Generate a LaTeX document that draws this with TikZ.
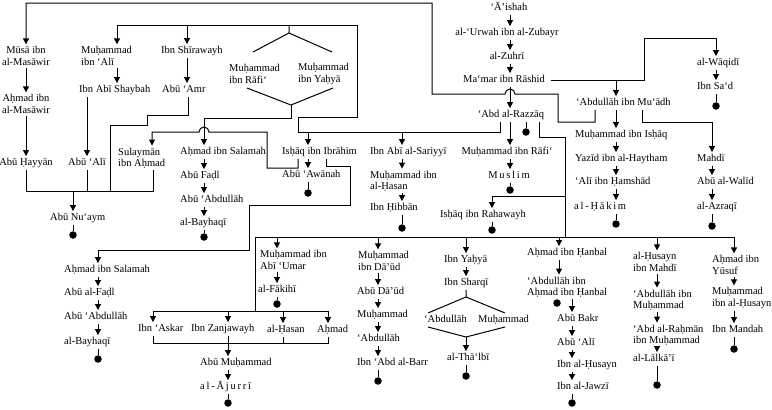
\documentclass[tikz,border=0pt]{standalone}
\usepackage{fontspec}
\setmainfont{Liberation Serif}
\usetikzlibrary{arrows.meta}

\begin{document}
\begin{tikzpicture}[
  x=1pt, y=-1pt,
  font=\fontsize{10.5}{11.5}\selectfont,
  nm/.style={anchor=west, inner xsep=0pt, inner ysep=2pt, text height=7pt, text depth=2.5pt},
  nm2/.style={anchor=west, align=left, inner xsep=0pt, inner ysep=2pt},
  ln/.style={line width=1pt},
  arr/.style={line width=1pt, -{Triangle[length=6pt,width=6pt]}},
  dot/.style={circle, fill=black, minimum size=7.5pt, inner sep=0pt}
]
  \useasboundingbox (0,0) rectangle (772,410);

  % upper left
  \node[nm2, anchor=center, align=center] (musa) at (26,56) {Mūsā ibn\\al-Masāwir};
  \node[nm2, anchor=center, align=center] (ahmadM) at (26,104) {Aḥmad ibn\\al-Masāwir};
  \node[nm, anchor=center] (hayyan) at (26,163) {Abū Ḥayyān};
  \node[nm2] (mAli) at (81,56) {Muḥammad\\ibn ‘Alī};
  \node[nm] (shaybah) at (79,90) {Ibn Abī Shaybah};
  \node[nm, anchor=center] (abuAli) at (87,163) {Abū ‘Alī};
  \node[nm] (shirawayh) at (161,51) {Ibn Shīrawayh};
  \node[nm] (abuAmr) at (162,90) {Abū ‘Amr};
  \node[nm2] (sulayman) at (118,158) {Sulaymān\\ibn Aḥmad};
  \node[nm] (nuaym) at (50,218) {Abū Nu‘aym};

  % upper middle
  \node[nm2] (mRafiA) at (229,74) {Muḥammad\\ibn Rāfi‘};
  \node[nm2] (mYahya) at (298,74) {Muḥammad\\ibn Yaḥyā};
  \node[nm] (salamahA) at (180,152) {Aḥmad ibn Salamah};
  \node[nm] (fadlA) at (180,176) {Abū Faḍl};
  \node[nm] (abdA) at (180,200) {Abū ‘Abdullāh};
  \node[nm] (bayhaqiA) at (180,223) {al-Bayhaqī};
  \node[nm] (ishaqI) at (282,152) {Isḥāq ibn Ibrāhim};
  \node[nm] (awanah) at (282,175) {Abū ‘Awānah};
  \node[nm] (sariyyi) at (370,152) {Ibn Abī al-Sariyyī};
  \node[nm2] (mHasan) at (370,181) {Muḥammad ibn\\al-Ḥasan};
  \node[nm] (hibban) at (370,208) {Ibn Ḥibbān};

  % main chain
  \node[nm, anchor=center] (aishah) at (509,8) {‘Ā’ishah};
  \node[nm, anchor=center] (urwah) at (507,33) {al-‘Urwah ibn al-Zubayr};
  \node[nm, anchor=center] (zuhri) at (507,57) {al-Zuhrī};
  \node[nm, anchor=center] (mamar) at (504,80) {Ma‘mar ibn Rāshid};
  \node[nm, anchor=center] (razzaq) at (511,115) {‘Abd al-Razzāq};
  \node[nm, anchor=center] (mRafiB) at (507,152) {Muḥammad ibn Rāfi‘};
  \node[nm, anchor=center] (muslim) at (509,176) {M\,u\,s\,l\,i\,m};
  \node[nm, anchor=center] (rahawayh) at (483,215) {Isḥāq ibn Rahawayh};

  % upper right
  \node[nm] (waqidi) at (697,63) {al-Wāqidī};
  \node[nm] (ibnSad) at (697,87) {Ibn Sa‘d};
  \node[nm] (muadh) at (576,103) {‘Abdullāh ibn Mu‘ādh};
  \node[nm] (mIshaq) at (575,135) {Muḥammad ibn Isḥāq};
  \node[nm] (yazid) at (575,159) {Yazīd ibn al-Haytham};
  \node[nm] (hamshad) at (575,182) {‘Alī ibn Ḥamshād};
  \node[nm] (hakim) at (574,207) {a\,l\,-\,Ḥ\,ā\,k\,i\,m};
  \node[nm] (mahdi) at (697,159) {Mahdī};
  \node[nm] (walid) at (697,182) {Abū al-Walīd};
  \node[nm] (azraqi) at (697,207) {al-Azraqī};

  % lower part
  \node[nm] (salamahB) at (64,270) {Aḥmad ibn Salamah};
  \node[nm] (fadlB) at (64,293) {Abū al-Faḍl};
  \node[nm] (abdB) at (64,317) {Abū ‘Abdullāh};
  \node[nm] (bayhaqiB) at (64,342) {al-Bayhaqī};
  \node[nm] (askar) at (138,329) {Ibn ‘Askar};
  \node[nm] (zanjawayh) at (191,329) {Ibn Zanjawayh};
  \node[nm] (hasan) at (267,330) {al-Ḥasan};
  \node[nm] (ahmad) at (317,330) {Aḥmad};
  \node[nm] (abuMuh) at (200,363) {Abū Muḥammad};
  \node[nm] (ajurri) at (200,387) {a\,l\,-\,Ā\,j\,u\,r\,r\,ī};
  \node[nm2] (mUmar) at (260,260) {Muḥammad ibn\\Abī ‘Umar};
  \node[nm] (fakihi) at (258,290) {al-Fākihī};
  \node[nm2] (mDaud) at (358,261) {Muḥammad\\ibn Dā’ūd};
  \node[nm] (abuDaud) at (357,292) {Abū Dā’ūd};
  \node[nm] (muhD) at (357,315) {Muḥammad};
  \node[nm] (abdD) at (357,339) {‘Abdullāh};
  \node[nm] (abdBarr) at (357,363) {Ibn ‘Abd al-Barr};
  \node[nm] (ibnYahya) at (444,260) {Ibn Yaḥyā};
  \node[nm] (sharqi) at (444,283) {Ibn Sharqī};
  \node[nm] (abdS) at (424,320) {‘Abdullāh};
  \node[nm] (muhS) at (478,320) {Muḥammad};
  \node[nm] (thalbi) at (447,358) {al-Thā‘lbī};
  \node[nm] (hanbal) at (527,253) {Aḥmad ibn Ḥanbal};
  \node[nm2] (abdH) at (527,287) {‘Abdullāh ibn\\Aḥmad ibn Ḥanbal};
  \node[nm] (abuBakr) at (557,319) {Abū Bakr};
  \node[nm] (abuAliB) at (557,343) {Abū ‘Alī};
  \node[nm] (husaynB) at (557,365) {Ibn al-Ḥusayn};
  \node[nm] (jawzi) at (557,387) {Ibn al-Jawzī};
  \node[nm2] (husayn) at (633,262) {al-Ḥusayn\\ibn Mahdī};
  \node[nm2] (abdM) at (633,300) {‘Abdullāh ibn\\Muḥammad};
  \node[nm2] (rahman) at (633,335) {‘Abd al-Raḥmān\\ibn Muḥammad};
  \node[nm] (lalkai) at (633,359) {al-Lālkā’ī};
  \node[nm2] (ahmadY) at (712,265) {Aḥmad ibn\\Yūsuf};
  \node[nm2] (mHusayn) at (712,298) {Muḥammad\\ibn al-Ḥusayn};
  \node[nm] (mandah) at (712,330) {Ibn Mandah};

  % end dots
  \node[dot] (dNuaym) at (73,235) {};
  \node[dot] (dBayA) at (204,237) {};
  \node[dot] (dAwanah) at (308,193) {};
  \node[dot] (dHibban) at (402,228) {};
  \node[dot] (dRazzaq) at (526,132) {};
  \node[dot] (dMuslim) at (510,190) {};
  \node[dot] (dRahawayh) at (492,230) {};
  \node[dot] (dSad) at (716,106) {};
  \node[dot] (dHakim) at (616,224) {};
  \node[dot] (dAzraqi) at (712,226) {};
  \node[dot] (dBayB) at (98,359) {};
  \node[dot] (dAjurri) at (228,403) {};
  \node[dot] (dFakihi) at (277,304) {};
  \node[dot] (dBarr) at (378,381) {};
  \node[dot] (dThalbi) at (466,376) {};
  \node[dot] (dHanbal) at (557,303) {};
  \node[dot] (dJawzi) at (572,403) {};
  \node[dot] (dLalkai) at (657,385) {};
  \node[dot] (dMandah) at (734,349) {};

  % long routes
  \draw[arr] (muadh.south -| 595,0) -- (595,122) -- (558,122) -- (558,94) -- (515,94)
    arc[start angle=0, end angle=180, radius=5pt] -- (432,94) -- (432,3) -| (musa.north);
  \draw[ln] (razzaq.south -| 500,0) -- (500,132) -- (298,132) -- (298,117) -- (357,117) -- (357,25) -- (117,25);
  \draw[arr] (117,25) -- (mAli.north -| 117,0);
  \draw[arr] (187,25) -- (shirawayh.north -| 187,0);
  \draw[arr] (308,132) -- (ishaqI.north -| 308,0);
  \draw[arr] (402,132) -- (sariyyi.north -| 402,0);
  \draw[arr] ([xshift=6pt]mamar.east) -- (644,80) |- (716,38) -- (waqidi.north -| 716,0);
  \draw[arr] (616,80) -- (muadh.north -| 616,0);
  \draw[arr] (muadh.south -| 642,0) -- (642,122) -| (mahdi.north -| 712,0);

  % two Muhammads
  \draw[ln] (289,25) -- (289,33) -- (253,52);
  \draw[ln] (289,33) -- (332,52);
  \draw[ln] (247,88) -- (291,105) -- (333,88);
  \draw[arr] (291,105) -- (291,118) -- (204,118) -- (salamahA.north -| 204,0);

  % from Ishaq ibn Ibrahim
  \draw[arr] (ishaqI.south -| 298,0) -- (298,168) -- (267,168) -- (267,132) -- (209,132)
    arc[start angle=0, end angle=180, radius=5pt] -- (152,132) -- (sulayman.north -| 152,0);
  \draw[arr] (ishaqI.south -| 326,0) -- (326,166) -- (350,166) -- (350,205) -- (249,205) -- (249,250) -| (salamahB.north -| 98,0);

  % to Abu Nu'aym
  \draw[ln] (abuAmr.south -| 188,0) -- (188,115) -- (147,115) -- (147,125) -- (110,125) -- (110,191);
  \draw[ln] (hayyan.south) -- (26,191) -- (153,191) -- (sulayman.south -| 153,0);
  \draw[ln] (abuAli.south) -- (87,191);
  \draw[arr] (73,191) -- (nuaym.north -| 73,0);

  % from 'Abd al-Razzaq to the right
  \draw[ln] (razzaq.south -| 539,0) -- (539,137) -- (565,137) -- (565,237);
  \draw[arr] (565,196) -| (rahawayh.north -| 492,0);
  \draw[ln] (255,311) -- (255,237) -- (734,237);
  \draw[arr] (277,237) -- (mUmar.north -| 277,0);
  \draw[arr] (378,237) -- (mDaud.north -| 378,0);
  \draw[arr] (466,237) -- (ibnYahya.north -| 466,0);
  \draw[arr] (559,237) -- (hanbal.north -| 559,0);
  \draw[arr] (657,237) -- (husayn.north -| 657,0);
  \draw[arr] (734,237) -- (ahmadY.north -| 734,0);
  \draw[ln] (153,311) -- (328,311);
  \draw[arr] (153,311) -- (askar.north -| 153,0);
  \draw[arr] (228,311) -- (zanjawayh.north -| 228,0);
  \draw[arr] (283,311) -- (hasan.north -| 283,0);
  \draw[arr] (328,311) -- (ahmad.north -| 328,0);
  \draw[ln] (askar.south -| 153,0) -- (153,343) -- (328,343) -- (ahmad.south -| 328,0);
  \draw[ln] (hasan.south -| 283,0) -- (283,343);
  \draw[arr] (zanjawayh.south -| 228,0) -- (abuMuh.north -| 228,0);

  % Ibn Sharqi
  \draw[ln] (sharqi.south -| 466,0) -- (466,297) -- (428,313);
  \draw[ln] (466,297) -- (505,313);
  \draw[ln] (428,327) -- (466,337) -- (505,327);
  \draw[arr] (466,337) -- (thalbi.north -| 466,0);

  % chains
  \draw[arr] (musa.south) -- (ahmadM.north);
  \draw[arr] (ahmadM.south) -- (hayyan.north);
  \draw[arr] (mAli.south -| 117,0) -- (shaybah.north -| 117,0);
  \draw[arr] (shirawayh.south -| 187,0) -- (abuAmr.north -| 187,0);
  \draw[arr] (shaybah.south -| abuAli) -- (abuAli.north);
  \draw[arr] (salamahA.south -| 204,0) -- (fadlA.north -| 204,0);
  \draw[arr] (fadlA.south -| 204,0) -- (abdA.north -| 204,0);
  \draw[arr] (abdA.south -| 204,0) -- (bayhaqiA.north -| 204,0);
  \draw[arr] (ishaqI.south -| 308,0) -- (awanah.north -| 308,0);
  \draw[arr] (sariyyi.south -| 402,0) -- (mHasan.north -| 402,0);
  \draw[arr] (mHasan.south -| 402,0) -- (hibban.north -| 402,0);
  \draw[arr] (aishah.south -| 510,0) -- (urwah.north -| 510,0);
  \draw[arr] (urwah.south -| 510,0) -- (zuhri.north -| 510,0);
  \draw[arr] (zuhri.south -| 510,0) -- (mamar.north -| 510,0);
  \draw[arr] (mamar.south -| 510,0) -- (razzaq.north -| 510,0);
  \draw[arr] (razzaq.south -| 510,0) -- (mRafiB.north -| 510,0);
  \draw[arr] (mRafiB.south -| 510,0) -- (muslim.north -| 510,0);
  \draw[arr] (waqidi.south -| 716,0) -- (ibnSad.north -| 716,0);
  \draw[arr] (muadh.south -| 616,0) -- (mIshaq.north -| 616,0);
  \draw[arr] (mIshaq.south -| 616,0) -- (yazid.north -| 616,0);
  \draw[arr] (yazid.south -| 616,0) -- (hamshad.north -| 616,0);
  \draw[arr] (hamshad.south -| 616,0) -- (hakim.north -| 616,0);
  \draw[arr] (mahdi.south -| 712,0) -- (walid.north -| 712,0);
  \draw[arr] (walid.south -| 712,0) -- (azraqi.north -| 712,0);
  \draw[arr] (salamahB.south -| 98,0) -- (fadlB.north -| 98,0);
  \draw[arr] (fadlB.south -| 98,0) -- (abdB.north -| 98,0);
  \draw[arr] (abdB.south -| 98,0) -- (bayhaqiB.north -| 98,0);
  \draw[arr] (abuMuh.south -| 228,0) -- (ajurri.north -| 228,0);
  \draw[arr] (mUmar.south -| 277,0) -- (fakihi.north -| 277,0);
  \draw[arr] (mDaud.south -| 378,0) -- (abuDaud.north -| 378,0);
  \draw[arr] (abuDaud.south -| 378,0) -- (muhD.north -| 378,0);
  \draw[arr] (muhD.south -| 378,0) -- (abdD.north -| 378,0);
  \draw[arr] (abdD.south -| 378,0) -- (abdBarr.north -| 378,0);
  \draw[arr] (ibnYahya.south -| 466,0) -- (sharqi.north -| 466,0);
  \draw[arr] (hanbal.south -| 559,0) -- (abdH.north -| 559,0);
  \draw[arr] (abdH.south -| 572,0) -- (abuBakr.north -| 572,0);
  \draw[arr] (abuBakr.south -| 572,0) -- (abuAliB.north -| 572,0);
  \draw[arr] (abuAliB.south -| 572,0) -- (husaynB.north -| 572,0);
  \draw[arr] (husaynB.south -| 572,0) -- (jawzi.north -| 572,0);
  \draw[arr] (husayn.south -| 657,0) -- (abdM.north -| 657,0);
  \draw[arr] (abdM.south -| 657,0) -- (rahman.north -| 657,0);
  \draw[arr] (rahman.south -| 657,0) -- (lalkai.north -| 657,0);
  \draw[arr] (ahmadY.south -| 734,0) -- (mHusayn.north -| 734,0);
  \draw[arr] (mHusayn.south -| 734,0) -- (mandah.north -| 734,0);

  % stems to the dots
  \draw[ln] (nuaym.south -| dNuaym) -- (dNuaym);
  \draw[ln] (bayhaqiA.south -| dBayA) -- (dBayA);
  \draw[ln] (awanah.south -| dAwanah) -- (dAwanah);
  \draw[ln] (hibban.south -| dHibban) -- (dHibban);
  \draw[ln] (razzaq.south -| dRazzaq) -- (dRazzaq);
  \draw[ln] (muslim.south -| dMuslim) -- (dMuslim);
  \draw[ln] (rahawayh.south -| dRahawayh) -- (dRahawayh);
  \draw[ln] (ibnSad.south -| dSad) -- (dSad);
  \draw[ln] (hakim.south -| dHakim) -- (dHakim);
  \draw[ln] (azraqi.south -| dAzraqi) -- (dAzraqi);
  \draw[ln] (bayhaqiB.south -| dBayB) -- (dBayB);
  \draw[ln] (ajurri.south -| dAjurri) -- (dAjurri);
  \draw[ln] (fakihi.south -| dFakihi) -- (dFakihi);
  \draw[ln] (abdBarr.south -| dBarr) -- (dBarr);
  \draw[ln] (thalbi.south -| dThalbi) -- (dThalbi);
  \draw[ln] (jawzi.south -| dJawzi) -- (dJawzi);
  \draw[ln] (lalkai.south -| dLalkai) -- (dLalkai);
  \draw[ln] (mandah.south -| dMandah) -- (dMandah);
\end{tikzpicture}
\end{document}
